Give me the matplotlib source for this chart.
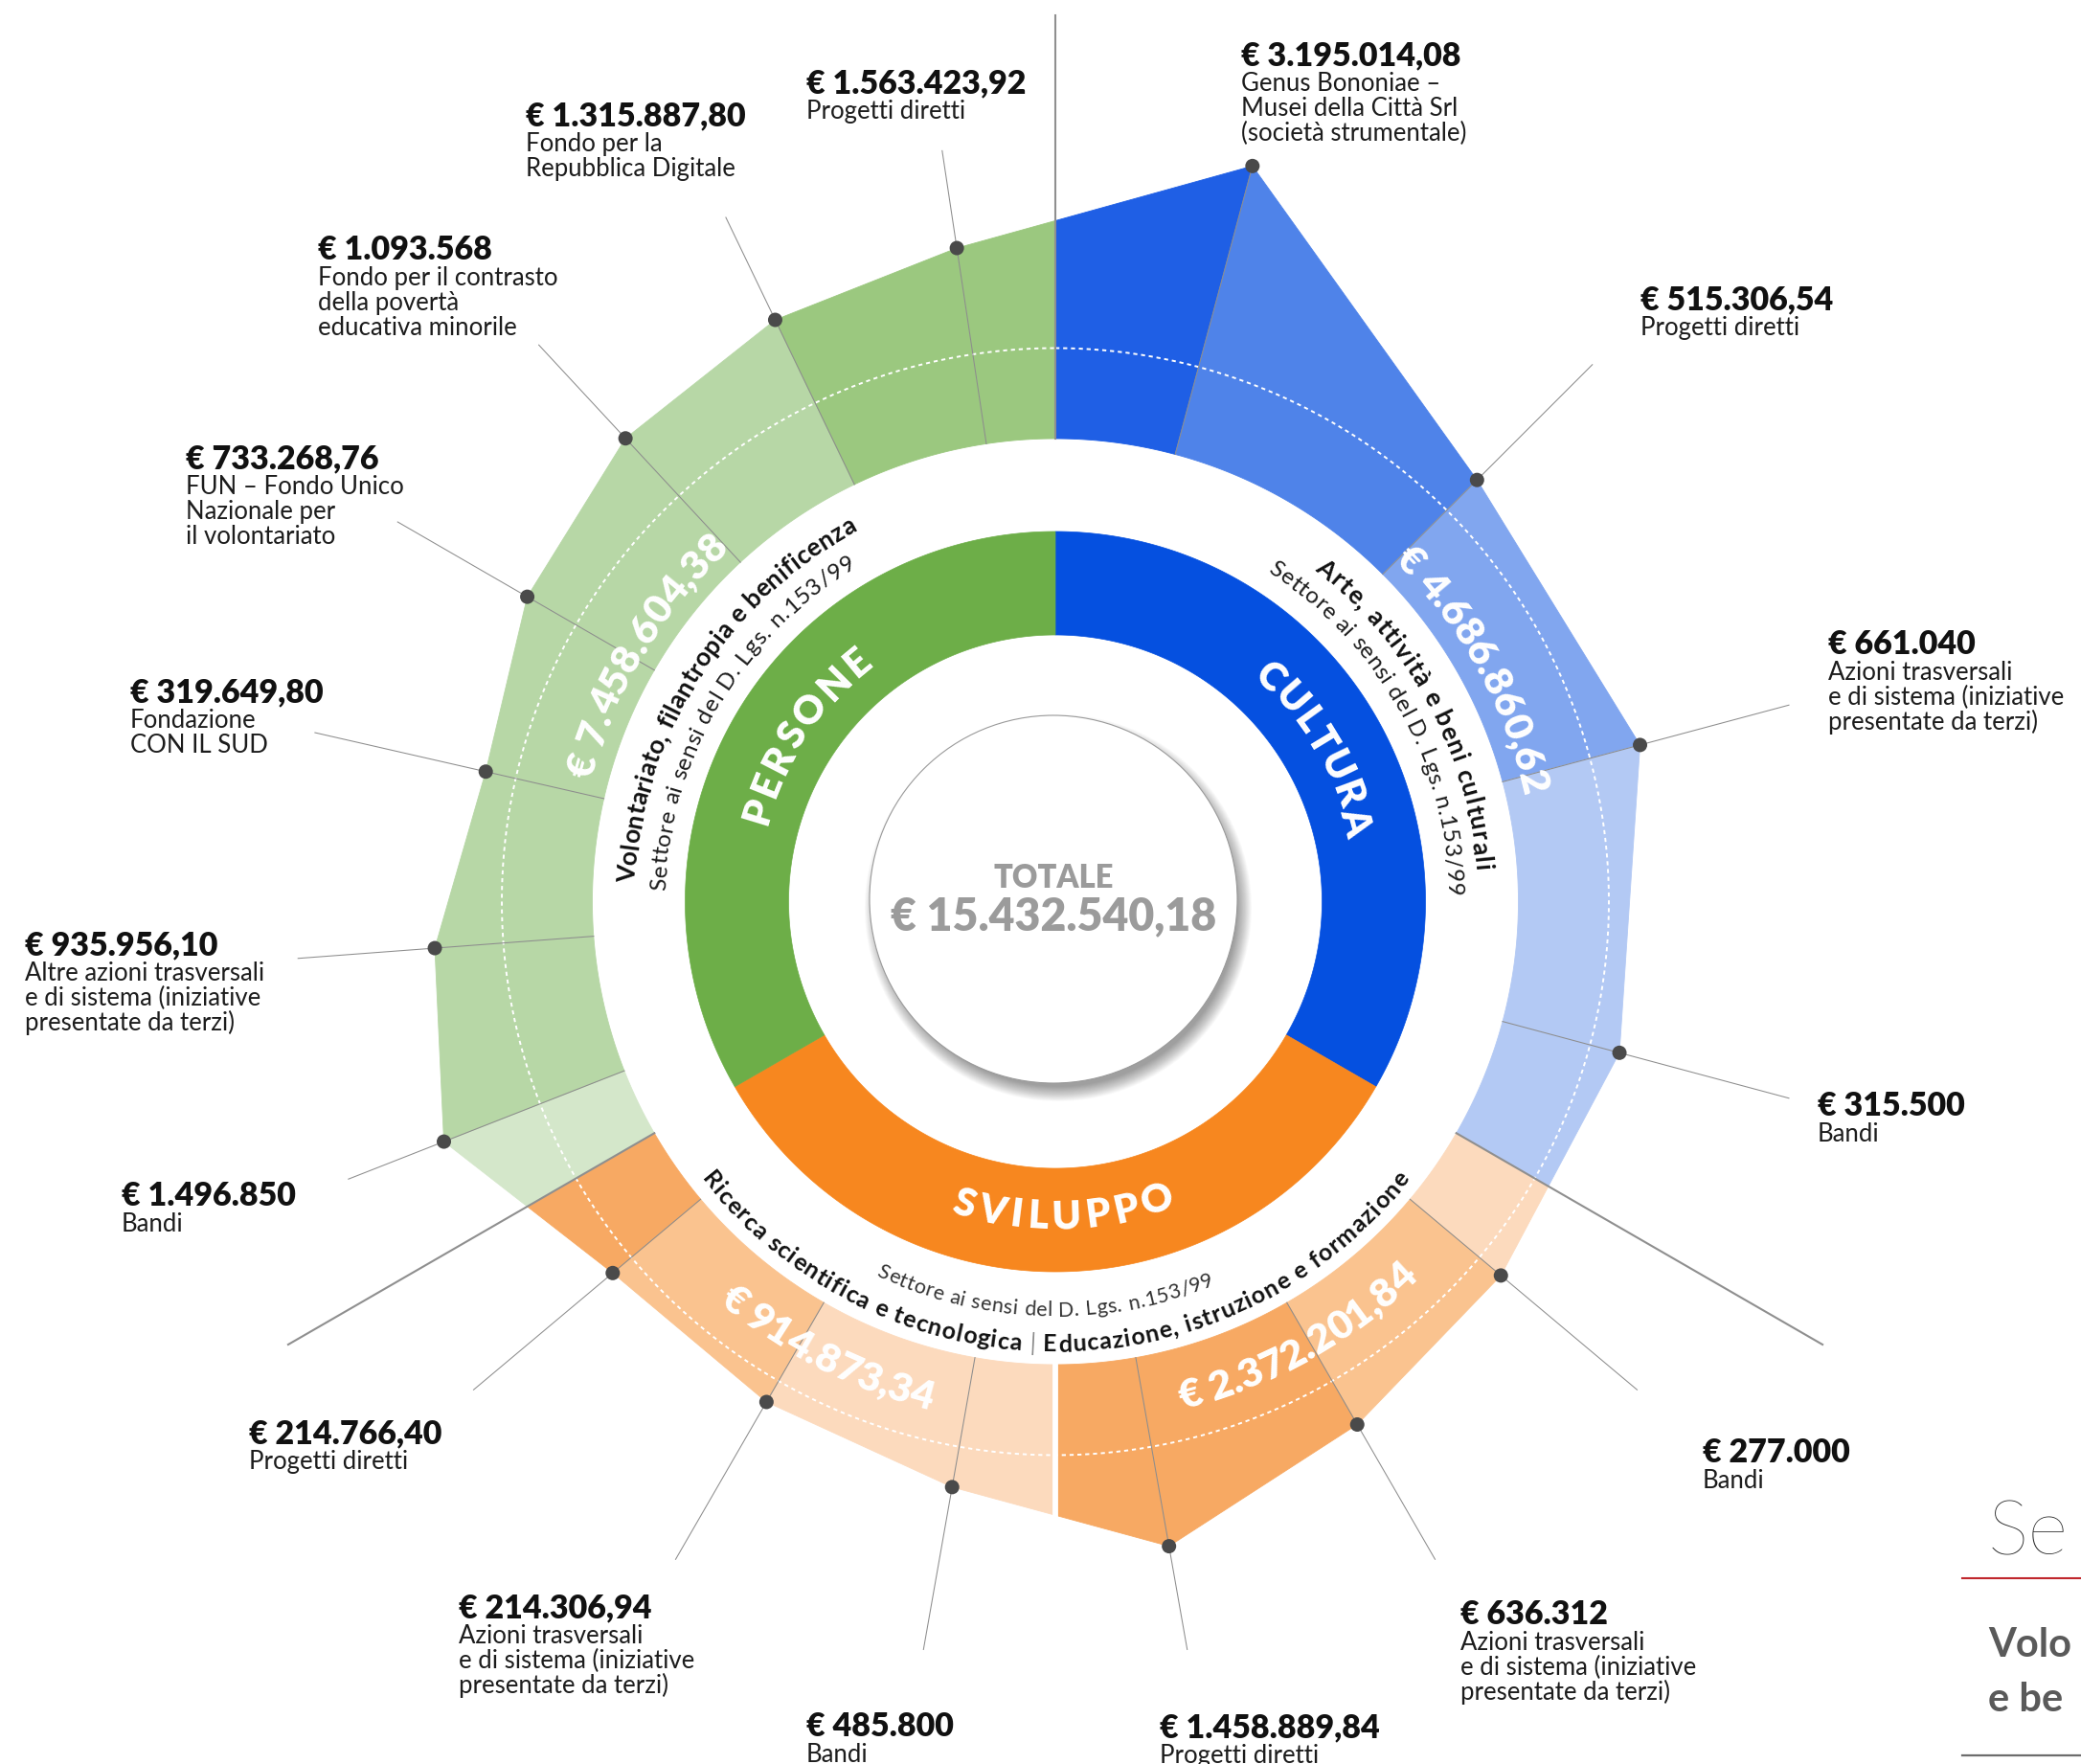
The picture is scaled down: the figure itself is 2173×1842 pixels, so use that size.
import numpy as np
import matplotlib
matplotlib.use("Agg")
import matplotlib.pyplot as plt
from matplotlib.patches import Polygon, Circle
from matplotlib.font_manager import FontProperties, findfont, get_font

try:
    from matplotlib.ft2font import LoadFlags
    NO_HINT = LoadFlags.NO_HINTING
except ImportError:
    from matplotlib.ft2font import LOAD_NO_HINTING as NO_HINT

plt.rcParams['font.family'] = ['Lato', 'DejaVu Sans']

# ----------------------------- data -----------------------------
cultura_items = ["Genus Bononiae –\nMusei della Città Srl\n(società strumentale)",
                 "Progetti diretti",
                 "Azioni trasversali\ne di sistema (iniziative\npresentate da terzi)",
                 "Bandi"]
cultura_values = [3195014.08, 515306.54, 661040, 315500]

educazione_items = ["Bandi",
                    "Azioni trasversali\ne di sistema (iniziative\npresentate da terzi)",
                    "Progetti diretti"]
educazione_values = [277000, 636312, 1458889.84]

ricerca_items = ["Bandi",
                 "Azioni trasversali\ne di sistema (iniziative\npresentate da terzi)",
                 "Progetti diretti"]
ricerca_values = [485800, 214306.94, 214766.40]

persone_items = ["Bandi",
                 "Altre azioni trasversali\ne di sistema (iniziative\npresentate da terzi)",
                 "Fondazione\nCON IL SUD",
                 "FUN – Fondo Unico\nNazionale per\nil volontariato",
                 "Fondo per il contrasto\ndella povertà\neducativa minorile",
                 "Fondo per la\nRepubblica Digitale",
                 "Progetti diretti"]
persone_values = [1496850, 935956.10, 319649.80, 733268.76, 1093568, 1315887.80, 1563423.92]

macro_names = ["CULTURA", "SVILUPPO", "PERSONE"]
sector_cultura = "Arte, attività e beni culturali"
sector_persone = "Volontariato, filantropia e benificenza"
sector_ricerca = "Ricerca scientifica e tecnologica"
sector_educazione = "Educazione, istruzione e formazione"
sector_note = "Settore ai sensi del D. Lgs. n.153/99"
total_label = "TOTALE"
side_title = "Se"                       # visible part of the clipped side panel
side_sub = ["Volo", "e be"]

# ----------------------------- layout ---------------------------
W, H, DPI = 2173, 1842, 100
CX, CY = 1102.0, 941.5
R_IN_DONUT, R_OUT_DONUT = 278.5, 386.5
R_RING = 483.5
R0, K = 589.5, 64.4e-6          # outer radius = R0 + K * value
R_LEADER = 793
R_BOUND = 925
R_DASH = 578

cultura_label_xy = [(1296, 45), (1713, 300), (1909, 660), (1898, 1142)]
educazione_label_xy = [(1778, 1504), (1525, 1673), (1211, 1791)]
ricerca_label_xy = [(842, 1790), (479, 1666), (260, 1484)]
persone_label_xy = [(127, 1236), (26, 974), (136, 710), (194, 466), (332, 248), (549, 108), (842, 74)]

BLUE = ['#1f5fe5', '#4f83e9', '#81a6ef', '#b3c9f4']
ORANGE = ['#f7a963', '#fac38f', '#fcdabd']
GREEN = ['#9bc87f', '#b7d7a6', '#d4e7ca']
cultura_region_colors = [BLUE[0], BLUE[1], BLUE[2], BLUE[3], BLUE[3]]
educazione_region_colors = [ORANGE[2], ORANGE[1], ORANGE[0], ORANGE[0]]
ricerca_region_colors = [ORANGE[2], ORANGE[2], ORANGE[1], ORANGE[0]]
persone_region_colors = [GREEN[2], GREEN[1], GREEN[1], GREEN[1], GREEN[1], GREEN[1], GREEN[0], GREEN[0]]

GREEN_IN, BLUE_IN, ORANGE_IN = '#6dae48', '#0550e0', '#f7871f'
BOLD = 'heavy'
TXT = '#1c1c1c'

fig = plt.figure(figsize=(W / DPI, H / DPI), dpi=DPI)
fig.patch.set_facecolor('white')
ax = fig.add_axes([0, 0, 1, 1])
ax.set_xlim(0, W)
ax.set_ylim(H, 0)
ax.axis('off')


def fmt_eur(v):
    cents = int(round(v * 100))
    ip, dp = divmod(cents, 100)
    s = f"{ip:,}".replace(",", ".")
    if dp:
        s += f",{dp:02d}"
    return "€ " + s


def pt(theta, r):
    th = np.deg2rad(theta)
    return np.array([CX + r * np.sin(th), CY - r * np.cos(th)])


def arc_pts(a0, a1, r):
    n = max(3, int(abs(a1 - a0) * 3) + 1)
    return np.array([pt(a, r) for a in np.linspace(a0, a1, n)])


_font_paths = {}


def advance(ch, weight, size):
    if weight not in _font_paths:
        _font_paths[weight] = findfont(FontProperties(family='Lato', weight=weight))
    font = get_font(_font_paths[weight])
    font.set_size(size, DPI)
    g = font.load_char(ord(ch), flags=NO_HINT)
    return g.linearHoriAdvance / 65536.0


def arc_text(segments, r, theta_c, size, reading='cw', span=None, zorder=7):
    items = []
    for text, weight, color in segments:
        for ch in text:
            items.append((ch, weight, color, advance(ch, weight, size)))
    total = sum(it[3] for it in items)
    gap = 0.0
    if span is not None and len(items) > 1:
        target = np.deg2rad(span) * r
        gap = (target - total) / (len(items) - 1)
        total = target
    sgn = 1 if reading == 'cw' else -1
    s = -total / 2
    for ch, weight, color, adv in items:
        mid = s + adv / 2
        ang = theta_c + sgn * np.rad2deg(mid / r)
        x, y = pt(ang, r)
        rot = -ang if reading == 'cw' else 180 - ang
        if ch.strip():
            ax.text(x, y, ch, rotation=rot, rotation_mode='anchor', ha='center',
                    va='baseline', fontsize=size, fontweight=weight, color=color,
                    zorder=zorder)
        s += adv + gap


# ------------------------ outer polygon ring ---------------------
sectors = [
    (cultura_values, cultura_items, 0, 120, cultura_region_colors, cultura_label_xy),
    (educazione_values, educazione_items, 120, 180, educazione_region_colors, educazione_label_xy),
    (ricerca_values, ricerca_items, 180, 240, ricerca_region_colors, ricerca_label_xy),
    (persone_values, persone_items, 240, 360, persone_region_colors, persone_label_xy),
]

dots = []
for vals, labs, a0, a1, cols, xys in sectors:
    n = len(vals)
    for i, v in enumerate(vals):
        ang = a0 + (i + 0.5) * (a1 - a0) / n
        dots.append(dict(ang=ang, r=R0 + K * v, value=v, label=labs[i], xy=xys[i]))


def boundary_vertex(b):
    bb = b % 360
    prev = [d for d in dots if d['ang'] < bb]
    nxt = [d for d in dots if d['ang'] > bb]
    dp = prev[-1] if prev else dots[-1]
    dn = nxt[0] if nxt else dots[0]
    A = pt(dp['ang'], dp['r'])
    B = pt(dn['ang'], dn['r'])
    u = np.array([np.sin(np.deg2rad(bb)), -np.cos(np.deg2rad(bb))])
    d = B - A
    M = np.array([[u[0], -d[0]], [u[1], -d[1]]])
    t, _ = np.linalg.solve(M, A - np.array([CX, CY]))
    return np.array([CX, CY]) + t * u, t


idx = 0
for vals, labs, a0, a1, cols, xys in sectors:
    n = len(vals)
    sd = dots[idx:idx + n]
    idx += n
    v_ang = [a0] + [d['ang'] for d in sd] + [a1]
    v_pts = [boundary_vertex(a0)[0]] + [pt(d['ang'], d['r']) for d in sd] + [boundary_vertex(a1)[0]]
    for j in range(len(v_pts) - 1):
        inner = arc_pts(v_ang[j], v_ang[j + 1], R_RING)
        poly = np.vstack([inner, v_pts[j + 1], v_pts[j]])
        ax.add_patch(Polygon(poly, closed=True, fc=cols[j], ec=cols[j], lw=0.6, zorder=2))

# dashed guide circle
circ = np.array([pt(a, R_DASH) for a in np.linspace(0, 360, 1441)])
ax.plot(circ[:, 0], circ[:, 1], color='white', lw=1.4, dashes=(2.2, 2.0), zorder=3)

# white gap between the two SVILUPPO sectors
_, r180 = boundary_vertex(180)
p0, p1 = pt(180, R_RING - 2), pt(180, r180 + 3)
ax.plot([p0[0], p1[0]], [p0[1], p1[1]], color='white', lw=4.2, solid_capstyle='butt', zorder=3.5)

# main sector boundaries
for b in (0, 120, 240):
    p0, p1 = pt(b, R_RING), pt(b, R_BOUND)
    ax.plot([p0[0], p1[0]], [p0[1], p1[1]], color='#8f8f8f', lw=1.5, zorder=4)

# leader lines, dots, labels
for d in dots:
    p0 = pt(d['ang'], R_RING)
    p1 = pt(d['ang'], max(d['r'], R_LEADER))
    ax.plot([p0[0], p1[0]], [p0[1], p1[1]], color='#8d8d8d', lw=0.75, zorder=4)
    c = pt(d['ang'], d['r'])
    ax.add_patch(Circle(c, 7.5, fc='#4a4a4a', ec='none', zorder=5))
    x, y = d['xy']
    ax.text(x, y + 23, fmt_eur(d['value']), fontsize=24.5, fontweight=BOLD,
            color='#111111', ha='left', va='baseline', zorder=7)
    for k, line in enumerate(d['label'].split('\n')):
        ax.text(x, y + 50 + 25.8 * k, line, fontsize=18.5, fontweight='normal',
                color=TXT, ha='left', va='baseline', zorder=7)

# ring totals
tot_cultura = sum(cultura_values)
tot_persone = sum(persone_values)
tot_ricerca = sum(ricerca_values)
tot_educazione = sum(educazione_values)
arc_text([(fmt_eur(tot_persone), BOLD, 'white')], 501, 301, 30.5, 'cw')
arc_text([(fmt_eur(tot_cultura), BOLD, 'white')], 501, 61, 30.5, 'cw')
arc_text([(fmt_eur(tot_ricerca), BOLD, 'white')], 547, 207, 30.5, 'ccw')
arc_text([(fmt_eur(tot_educazione), BOLD, 'white')], 547, 151, 30.5, 'ccw')

# ------------------------ inner donut ---------------------------
for a0, a1, col in ((0, 120, BLUE_IN), (120, 240, ORANGE_IN), (240, 360, GREEN_IN)):
    poly = np.vstack([arc_pts(a0, a1, R_OUT_DONUT), arc_pts(a1, a0, R_IN_DONUT)])
    ax.add_patch(Polygon(poly, closed=True, fc=col, ec=col, lw=0.5, zorder=2))

arc_text([(macro_names[2], BOLD, 'white')], 312, 303.5, 29.5, 'cw', span=37.9)
arc_text([(macro_names[0], BOLD, 'white')], 312, 59.5, 29.5, 'cw', span=36.6)
arc_text([(macro_names[1], BOLD, 'white')], 342, 178.5, 29.5, 'ccw', span=40.4)

# sector names in the white gap
arc_text([(sector_persone, 'bold', '#111111')], 439, 302.25, 19, 'cw', span=59.5)
arc_text([(sector_note, 'normal', TXT)], 407, 300.5, 17.5, 'cw', span=57.7)
arc_text([(sector_cultura, 'bold', '#111111')], 439, 61.9, 19, 'cw', span=47.8)
arc_text([(sector_note, 'normal', TXT)], 409, 61.0, 17.5, 'cw', span=56.5)
arc_text([(sector_ricerca + " ", 'bold', '#111111'), ("|", 'normal', '#8a8a8a'),
          (" " + sector_educazione, 'bold', '#111111')], 470, 180, 18, 'ccw', span=104)
arc_text([(sector_note, 'normal', '#333333')], 433, 181.5, 15.5, 'ccw', span=48.3)

# ------------------------ centre disc ---------------------------
DX, DY, RC = 1100, 939, 192
for i in range(18):
    ax.add_patch(Circle((DX + 5, DY + 9), RC + 10 - i * 0.9, fc='black', ec='none',
                        alpha=0.022, zorder=5))
ax.add_patch(Circle((DX, DY), RC, fc='white', ec='#9a9a9a', lw=0.8, zorder=6))
ax.text(DX, 926.5, total_label, fontsize=23.5, fontweight=BOLD, color='#9b9b9b',
        ha='center', va='baseline', zorder=7)
ax.text(DX, 971.5, fmt_eur(tot_cultura + tot_persone + tot_ricerca + tot_educazione),
        fontsize=33.5, fontweight=BOLD, color='#9b9b9b', ha='center', va='baseline', zorder=7)

# ------------------------ clipped side panel ---------------------
ax.text(2076, 1623, side_title, fontsize=58, fontweight='light', color='#222222',
        ha='left', va='baseline', zorder=7)
ax.plot([2049, W], [1648, 1648], color='#c0272d', lw=1.5, zorder=7)
ax.text(2076, 1730, side_sub[0], fontsize=30, fontweight='bold', color='#5a5a5a',
        ha='left', va='baseline', zorder=7)
ax.text(2076, 1787, side_sub[1], fontsize=30, fontweight='bold', color='#5a5a5a',
        ha='left', va='baseline', zorder=7)
ax.plot([2049, W], [1833, 1833], color='#6d6d6d', lw=1.6, zorder=7)

fig.savefig("out.png", dpi=DPI, facecolor='white')
